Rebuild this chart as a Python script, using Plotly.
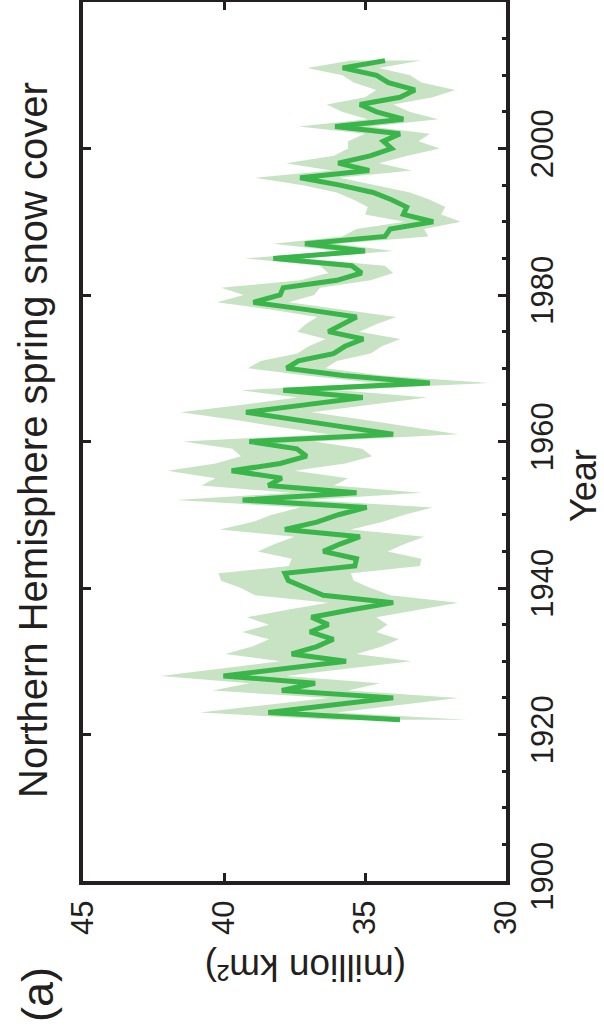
import plotly.graph_objects as go

years = list(range(1922, 2013))

snow_mean = [
    33.76, 38.43, 36.24, 34.00, 37.95, 36.77, 40.02, 37.90, 35.67, 37.60,
    36.71, 36.12, 36.95, 36.30, 36.90, 35.53, 34.00, 36.48, 37.07, 37.72,
    37.84, 35.36, 35.30, 36.48, 35.89, 35.18, 37.84, 36.71, 35.94, 34.94,
    39.34, 35.30, 38.43, 37.95, 39.73, 38.01, 37.07, 37.42, 39.10, 34.00,
    35.77, 37.42, 39.22, 37.13, 35.08, 37.90, 32.70, 35.77, 37.78, 37.36,
    36.12, 35.71, 35.06, 36.30, 35.83, 35.30, 37.07, 38.96, 38.01, 37.90,
    36.00, 35.12, 35.47, 38.25, 35.00, 37.13, 34.29, 34.11, 32.58, 33.64,
    33.52, 34.06, 34.71, 35.89, 37.30, 34.85, 35.95, 34.82, 34.06, 34.35,
    33.76, 36.06, 33.64, 34.59, 35.18, 33.76, 33.23, 34.17, 34.59, 35.79,
    34.29,
]

snow_upper = [
    36.10, 40.85, 38.60, 36.30, 40.40, 39.10, 42.25, 40.20, 38.00, 39.95,
    39.00, 38.40, 39.35, 38.40, 39.20, 37.80, 36.30, 38.90, 39.40, 40.10,
    40.20, 37.70, 37.60, 38.80, 38.20, 37.50, 40.15, 39.00, 38.30, 37.30,
    41.70, 37.60, 40.80, 40.30, 42.00, 40.30, 39.40, 39.70, 41.45, 36.30,
    38.10, 39.70, 41.55, 39.40, 37.40, 39.40, 34.60, 37.10, 39.15, 38.70,
    37.40, 37.00, 36.40, 37.40, 37.10, 36.70, 38.30, 40.25, 39.30, 40.10,
    37.30, 36.30, 36.60, 39.25, 36.00, 38.25, 35.80, 35.30, 33.60, 35.00,
    34.90, 35.40, 36.00, 37.20, 38.90, 36.20, 37.80, 36.10, 35.60, 35.60,
    35.00, 37.35, 34.90, 35.80, 36.35, 35.00, 34.60, 35.40, 35.80, 37.05,
    35.50,
]

snow_lower = [
    31.40, 36.00, 33.90, 31.70, 35.60, 34.47, 37.80, 35.60, 33.35, 35.30,
    34.40, 33.80, 34.60, 34.20, 34.60, 33.20, 31.70, 34.10, 34.80, 35.40,
    35.50, 33.05, 33.00, 34.20, 33.60, 32.90, 35.50, 34.40, 33.60, 32.60,
    37.00, 33.00, 36.10, 35.60, 37.50, 35.70, 34.75, 35.10, 36.80, 31.70,
    33.40, 35.10, 36.90, 34.80, 32.80, 35.90, 30.60, 34.40, 36.40, 36.00,
    34.80, 34.40, 33.75, 35.20, 34.60, 33.90, 35.80, 37.70, 36.80, 36.60,
    34.80, 34.00, 34.30, 37.20, 34.00, 36.00, 32.75, 32.90, 31.60, 32.30,
    32.15, 32.70, 33.40, 34.60, 35.90, 33.35, 34.50, 33.50, 32.35, 33.10,
    32.70, 34.80, 32.40, 33.40, 34.00, 32.60, 31.80, 33.00, 33.40, 34.50,
    33.00,
]

value_ticks = [45, 40, 35, 30]
year_ticks = [1900, 1920, 1940, 1960, 1980, 2000]
year_major_marks = [1920, 1940, 1960, 1980, 2000]

title_text = "Northern Hemisphere spring snow cover"
year_label = "Year"
unit_label = "(million km²)"
panel_label = "(a)"

LINE_GREEN = "rgb(57,181,74)"
BAND_GREEN = "rgb(199,227,196)"
INK = "#231f20"
FONT = "Liberation Sans, Arial, Helvetica, sans-serif"

fig = go.Figure()

# uncertainty band (polygon built from the upper and lower arrays)
fig.add_trace(go.Scatter(
    x=snow_upper + snow_lower[::-1],
    y=years + years[::-1],
    fill="toself",
    fillcolor=BAND_GREEN,
    line=dict(width=0),
    mode="lines",
    hoverinfo="skip",
    showlegend=False,
))

fig.add_trace(go.Scatter(
    x=snow_mean,
    y=years,
    mode="lines",
    line=dict(color=LINE_GREEN, width=5),
    showlegend=False,
))

# empty helper trace so the left-side tick axis is drawn
fig.add_trace(go.Scatter(
    x=[None], y=[None], yaxis="y2", mode="lines",
    showlegend=False, hoverinfo="skip",
))

fig.update_layout(
    width=604,
    height=1034,
    margin=dict(l=83, r=98, t=2, b=153),
    paper_bgcolor="white",
    plot_bgcolor="white",
    font=dict(family=FONT, color=INK),
    xaxis=dict(
        range=[45, 30],
        tickmode="array",
        tickvals=value_ticks,
        ticktext=[str(v) for v in value_ticks],
        ticks="inside",
        ticklen=8,
        tickwidth=3,
        tickcolor=INK,
        tickangle=-90,
        tickfont=dict(size=31, color=INK),
        ticklabelstandoff=3,
        showline=True,
        linewidth=4,
        linecolor=INK,
        mirror="ticks",
        showgrid=False,
        zeroline=False,
        automargin=False,
    ),
    yaxis=dict(
        range=[1900, 2020],
        side="right",
        tickmode="array",
        tickvals=year_ticks,
        ticktext=[str(v) for v in year_ticks],
        ticks="inside",
        ticklen=8,
        tickwidth=3,
        tickcolor=INK,
        tickangle=-90,
        tickfont=dict(size=31, color=INK),
        ticklabelstandoff=6,
        minor=dict(dtick=5, tick0=1900, ticks="inside", ticklen=4,
                   tickwidth=3, tickcolor=INK, showgrid=False),
        showline=True,
        linewidth=4,
        linecolor=INK,
        mirror=True,
        showgrid=False,
        zeroline=False,
        automargin=False,
    ),
    yaxis2=dict(
        range=[1900, 2020],
        overlaying="y",
        side="left",
        anchor="x",
        tickmode="array",
        tickvals=year_major_marks,
        ticks="inside",
        ticklen=8,
        tickwidth=3,
        tickcolor=INK,
        showticklabels=False,
        showline=False,
        showgrid=False,
        zeroline=False,
        automargin=False,
    ),
    annotations=[
        dict(text=title_text, xref="paper", yref="paper", x=-0.1182, y=0.5017,
             textangle=-90, showarrow=False, xanchor="center", yanchor="middle",
             font=dict(size=40, color=INK, family=FONT)),
        dict(text=year_label, xref="paper", yref="paper", x=1.1844, y=0.4494,
             textangle=-90, showarrow=False, xanchor="center", yanchor="middle",
             font=dict(size=36, color=INK, family=FONT)),
        dict(text=unit_label, xref="paper", yref="paper", x=0.5272, y=-0.0978,
             textangle=180, showarrow=False, xanchor="center", yanchor="middle",
             font=dict(size=37, color=INK, family=FONT)),
        dict(text=panel_label, xref="paper", yref="paper", x=-0.1087, y=-0.1297,
             textangle=-90, showarrow=False, xanchor="center", yanchor="middle",
             font=dict(size=45, color=INK, family=FONT)),
    ],
)

fig.write_html(
    "out.html",
    config={"displayModeBar": False},
    post_script="document.body.style.margin='0px';",
)
